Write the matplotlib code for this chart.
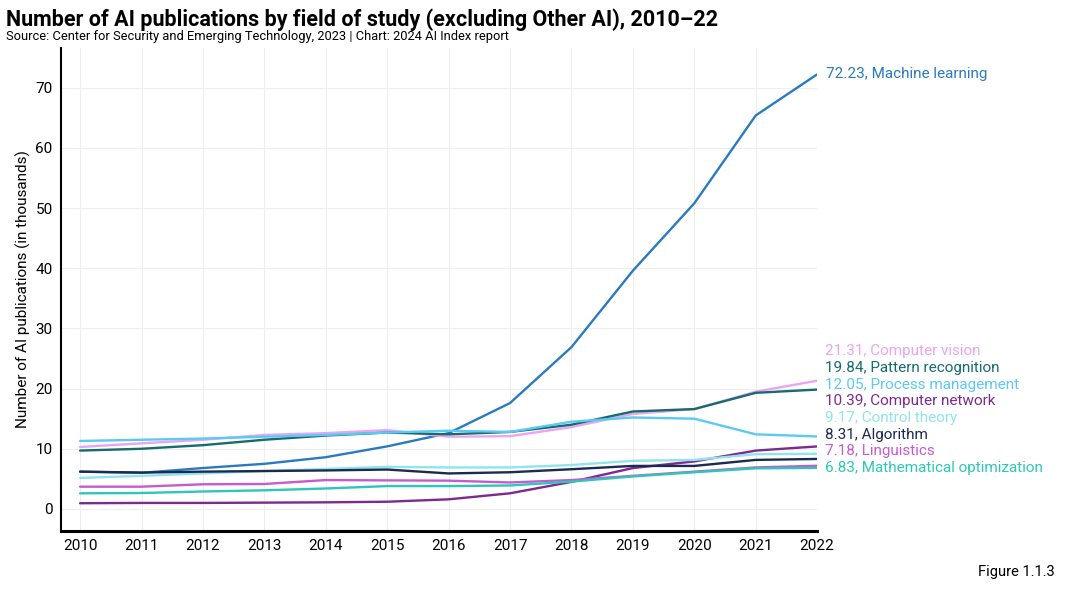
import matplotlib
matplotlib.use("Agg")
import matplotlib.pyplot as plt

plt.rcParams['font.family'] = ['Roboto', 'DejaVu Sans']

years = list(range(2010, 2023))

machine_learning = [6.2, 6.0, 6.8, 7.5, 8.6, 10.4, 12.6, 17.6, 26.9, 39.6, 50.8, 65.4, 72.23]
computer_vision = [10.3, 10.9, 11.5, 12.3, 12.6, 13.1, 12.0, 12.1, 13.6, 15.8, 16.6, 19.5, 21.31]
pattern_recognition = [9.7, 10.0, 10.6, 11.5, 12.2, 12.7, 12.4, 12.8, 14.0, 16.2, 16.6, 19.3, 19.84]
process_management = [11.3, 11.5, 11.7, 12.0, 12.3, 12.7, 13.0, 12.8, 14.5, 15.2, 15.0, 12.4, 12.05]
computer_network = [0.95, 1.0, 1.0, 1.05, 1.1, 1.2, 1.6, 2.6, 4.5, 6.8, 7.9, 9.7, 10.39]
control_theory = [5.15, 5.5, 5.9, 6.3, 6.65, 7.0, 6.9, 6.9, 7.3, 8.0, 8.15, 9.1, 9.17]
algorithm = [6.2, 6.05, 6.2, 6.3, 6.4, 6.55, 5.9, 6.1, 6.6, 7.15, 7.15, 8.15, 8.31]
linguistics = [3.7, 3.7, 4.1, 4.15, 4.8, 4.75, 4.7, 4.4, 4.8, 5.5, 6.2, 6.9, 7.18]
math_optimization = [2.6, 2.65, 2.9, 3.1, 3.4, 3.8, 3.8, 3.9, 4.55, 5.4, 6.1, 6.75, 6.83]

series = [
    ("Machine learning", machine_learning, "#2a7abf"),
    ("Computer vision", computer_vision, "#e8a6f2"),
    ("Pattern recognition", pattern_recognition, "#166c6c"),
    ("Process management", process_management, "#5cc9f5"),
    ("Computer network", computer_network, "#7d2a8e"),
    ("Control theory", control_theory, "#8fe4ee"),
    ("Algorithm", algorithm, "#1c2a50"),
    ("Linguistics", linguistics, "#c65ad1"),
    ("Mathematical optimization", math_optimization, "#2ec6b6"),
]

fig = plt.figure(figsize=(10.71, 5.93), dpi=100)
ax = fig.add_axes([0.057, 0.1046, 0.706, 0.8144])

for name, vals, col in series:
    ax.plot(years, vals, color=col, lw=1.7, solid_capstyle='round')

# end labels: ML next to its point, the rest stacked up from the lowest
ax.annotate(f"{machine_learning[-1]:.2f}, Machine learning", (years[-1], machine_learning[-1]),
            xytext=(6, 0), textcoords='offset points', va='center', ha='left',
            color=series[0][2], fontsize=11, annotation_clip=False)
rest = sorted(series[1:], key=lambda s: s[1][-1])
y_lab = rest[0][1][-1]
for name, vals, col in rest:
    ax.text(years[-1] + 0.12, y_lab, f"{vals[-1]:.2f}, {name}", color=col, fontsize=11,
            va='center', ha='left', clip_on=False)
    y_lab += 2.77

ax.set_xlim(2009.69, 2022)
ax.set_ylim(-3.66, 76.6)
ax.set_xticks(years)
ax.set_yticks(range(0, 80, 10))
ax.tick_params(length=0, labelsize=11, pad=6)
ax.grid(True, color='#eeeeee', lw=0.8)
ax.set_axisbelow(True)
for s in ['top', 'right']:
    ax.spines[s].set_visible(False)
ax.spines['left'].set_linewidth(1.5)
ax.spines['bottom'].set_linewidth(2.2)
ax.set_ylabel("Number of AI publications (in thousands)", fontsize=11, labelpad=3)

fig.text(0.006, 0.967, "Number of AI publications by field of study (excluding Other AI), 2010\u201322",
         fontsize=15.5, fontweight='bold', va='center')
fig.text(0.006, 0.939, "Source: Center for Security and Emerging Technology, 2023 | Chart: 2024 AI Index report",
         fontsize=9.3, va='center')
fig.text(0.985, 0.035, "Figure 1.1.3", fontsize=10.5, ha='right', va='center')

fig.savefig("out.png", dpi=100)
